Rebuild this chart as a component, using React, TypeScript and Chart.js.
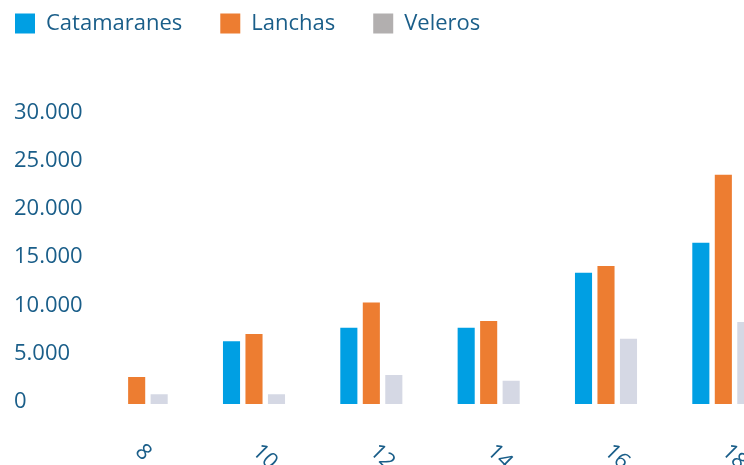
import React, { useEffect, useRef } from "react";
import { Chart, registerables } from "chart.js";

Chart.register(...registerables);

const categories = ["8", "10", "12", "14", "16", "18"];
const seriesNames = ["Catamaranes", "Lanchas", "Veleros"];
const catamaranes = [null, 6500, 7900, 7900, 13600, 16700];
const lanchas = [2800, 7250, 10500, 8600, 14300, 23750];
const veleros = [1000, 1000, 3000, 2400, 6750, 8500];
const yMin = 0;
const yMax = 30000;
const yStep = 5000;

const TEXT = "#1a5e89";
const FONT = '"Open Sans", "Noto Sans", sans-serif';
const BLUE = "#009fe3";
const ORANGE = "#ed7d31";
const GRAY_BAR = "#d5d8e4";
const GRAY_LEGEND = "#b2afaf";

const formatThousands = (v: number) =>
  String(v).replace(/\B(?=(\d{3})+(?!\d))/g, ".");

const legendShift = {
  id: "legendShift",
  afterLayout(chart: any) {
    const lg = chart.legend;
    if (!lg) return;
    const pad = 38;
    const dx = 15 - (lg.left + pad);
    const dy = 12.5 - (lg.top + pad);
    lg.left += dx;
    lg.right += dx;
    lg.top += dy;
    lg.bottom += dy;
  },
};

const xLabels = {
  id: "xLabels",
  afterDraw(chart: any) {
    const s = chart.scales.x;
    const ctx = chart.ctx;
    ctx.save();
    ctx.font = `22px ${FONT}`;
    ctx.fillStyle = TEXT;
    ctx.textAlign = "left";
    ctx.textBaseline = "middle";
    s.ticks.forEach((t: any, i: number) => {
      const x = s.getPixelForTick(i);
      ctx.save();
      ctx.translate(x + 2, s.top + 44);
      ctx.rotate(Math.PI / 4);
      ctx.fillText(String(s.getLabelForValue(t.value)), 0, 0);
      ctx.restore();
    });
    ctx.restore();
  },
};

export default function App() {
  const ref = useRef<HTMLCanvasElement>(null);

  useEffect(() => {
    if (!ref.current) return;
    Chart.defaults.font.family = FONT;
    const chart = new Chart(ref.current, {
      type: "bar",
      data: {
        labels: categories,
        datasets: [
          { label: seriesNames[0], data: catamaranes, backgroundColor: BLUE, borderWidth: 0 },
          { label: seriesNames[1], data: lanchas, backgroundColor: ORANGE, borderWidth: 0 },
          { label: seriesNames[2], data: veleros, backgroundColor: GRAY_BAR, borderWidth: 0 },
        ],
      },
      options: {
        responsive: false,
        animation: false,
        devicePixelRatio: 1,
        layout: { padding: { left: 14, top: 44.3, right: 0, bottom: 61 } },
        datasets: {
          bar: { barPercentage: 0.76, categoryPercentage: 0.575 },
        },
        plugins: {
          tooltip: { enabled: false },
          legend: {
            position: "top",
            align: "start",
            labels: {
              boxWidth: 20,
              boxHeight: 20,
              padding: 38,
              color: TEXT,
              font: { size: 22, family: FONT },
              generateLabels(chart: any) {
                const items = Chart.defaults.plugins.legend.labels.generateLabels(chart);
                return items.map((it: any, i: number) => ({
                  ...it,
                  fillStyle: i === 2 ? GRAY_LEGEND : it.fillStyle,
                  lineWidth: 0,
                  strokeStyle: "transparent",
                }));
              },
            },
          },
        },
        scales: {
          x: {
            grid: { display: false, drawTicks: false },
            border: { display: false },
            ticks: { display: false },
          },
          y: {
            min: yMin,
            max: yMax,
            grid: { display: false, drawTicks: false },
            border: { display: false },
            ticks: {
              stepSize: yStep,
              color: TEXT,
              font: { size: 22, family: FONT },
              crossAlign: "far",
              padding: 0,
              labelOffset: -2,
              callback: (v: any) => formatThousands(Number(v)),
            },
            afterFit(s: any) {
              s.width = 64;
              s._computeLabelArea = () => undefined;
            },
          },
        },
      },
      plugins: [legendShift, xLabels],
    } as any);
    return () => chart.destroy();
  }, []);

  return (
    <div
      style={{
        position: "fixed",
        left: 0,
        top: 0,
        width: 744,
        height: 465,
        overflow: "hidden",
        background: "#ffffff",
      }}
    >
      <canvas ref={ref} width={782} height={465} style={{ display: "block" }} />
    </div>
  );
}
